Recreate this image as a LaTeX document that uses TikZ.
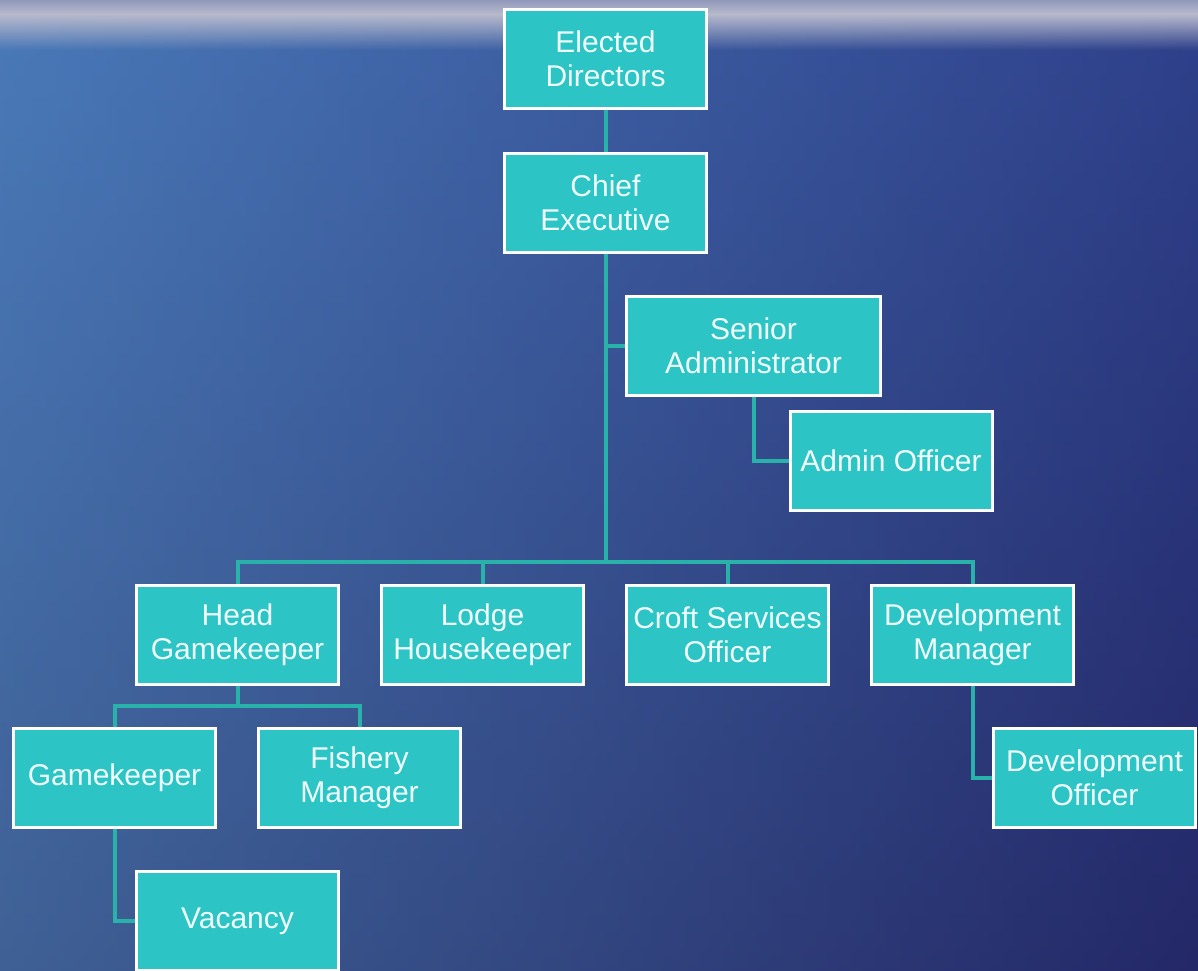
\documentclass[tikz,border=0pt]{standalone}
\usepackage{fontspec}
\setmainfont{Liberation Sans}
\usetikzlibrary{positioning,fadings}

\definecolor{teal1}{RGB}{44,196,196}
\definecolor{tealline}{RGB}{40,178,170}
\definecolor{seatop}{RGB}{62,98,178}
\definecolor{seabot}{RGB}{38,42,98}
\definecolor{sealeft}{RGB}{84,142,192}
\definecolor{searight}{RGB}{34,38,108}
\definecolor{sky}{RGB}{184,186,204}
\definecolor{skydark}{RGB}{130,140,180}
\definecolor{boxtext}{RGB}{240,255,255}

\begin{document}
\begin{tikzpicture}[
    x=1pt, y=-1pt,
    rolenode/.style={rectangle, draw=white, fill=teal1, line width=3pt,
        minimum width=202pt, minimum height=99pt, inner sep=0pt, align=center,
        text=boxtext, font=\fontsize{30}{34}\selectfont},
    linkline/.style={draw=tealline, line width=4pt},
    ]
    %Background
    \useasboundingbox (0,0) rectangle (1198,970);
    \shade[top color=seatop, bottom color=seabot] (-5,-5) rectangle (1205,975);
    \shade[left color=sealeft, right color=searight, opacity=0.55] (-5,-5) rectangle (1205,975);
    \fill[sky, path fading=south] (-5,14) rectangle (1205,50);
    \shade[top color=skydark, bottom color=sky] (-5,-5) rectangle (1205,14);

    %Nodes
    \node[rolenode]      (ed)    at (605.5,58.5)      {Elected\\Directors};
    \node[rolenode]      (ce)    [below=42pt of ed]   {Chief\\Executive};
    \node[rolenode, minimum width=254pt] (sa) at (753.5,345.5) {Senior\\Administrator};
    \node[rolenode]      (ao)    at (891,461)         {Admin Officer};
    \node[rolenode]      (hg)    at (237.5,634.5)     {Head\\Gamekeeper};
    \node[rolenode]      (lh)    [right=40pt of hg]   {Lodge\\Housekeeper};
    \node[rolenode]      (cs)    [right=40pt of lh]   {Croft Services\\Officer};
    \node[rolenode]      (dm)    [right=40pt of cs]   {Development\\Manager};
    \node[rolenode]      (gk)    at (114.5,777.5)     {Gamekeeper};
    \node[rolenode]      (fm)    [right=40pt of gk]   {Fishery\\Manager};
    \node[rolenode]      (vc)    at (237.5,921)       {Vacancy};
    \node[rolenode]      (do)    at (1094.5,777.5)    {Development\\Officer};

    \coordinate (bus)   at (605.5,562);
    \coordinate (hgbus) at (237.5,706);

    %Lines
    \draw[linkline] (ed.south) -- (ce.north);
    \draw[linkline] (ce.south) -- (bus);
    \draw[linkline] (sa.west) -| (ce.south);
    \draw[linkline] (sa.south) |- (ao.west);
    \draw[linkline] (hg.north) |- (bus) -| (dm.north);
    \draw[linkline] (lh.north) -- (lh.north |- bus);
    \draw[linkline] (cs.north) -- (cs.north |- bus);
    \draw[linkline] (dm.south) |- (do.west);
    \draw[linkline] (hg.south) -- (hgbus);
    \draw[linkline] (gk.north) |- (hgbus) -| (fm.north);
    \draw[linkline] (gk.south) |- (vc.west);
\end{tikzpicture}
\end{document}
